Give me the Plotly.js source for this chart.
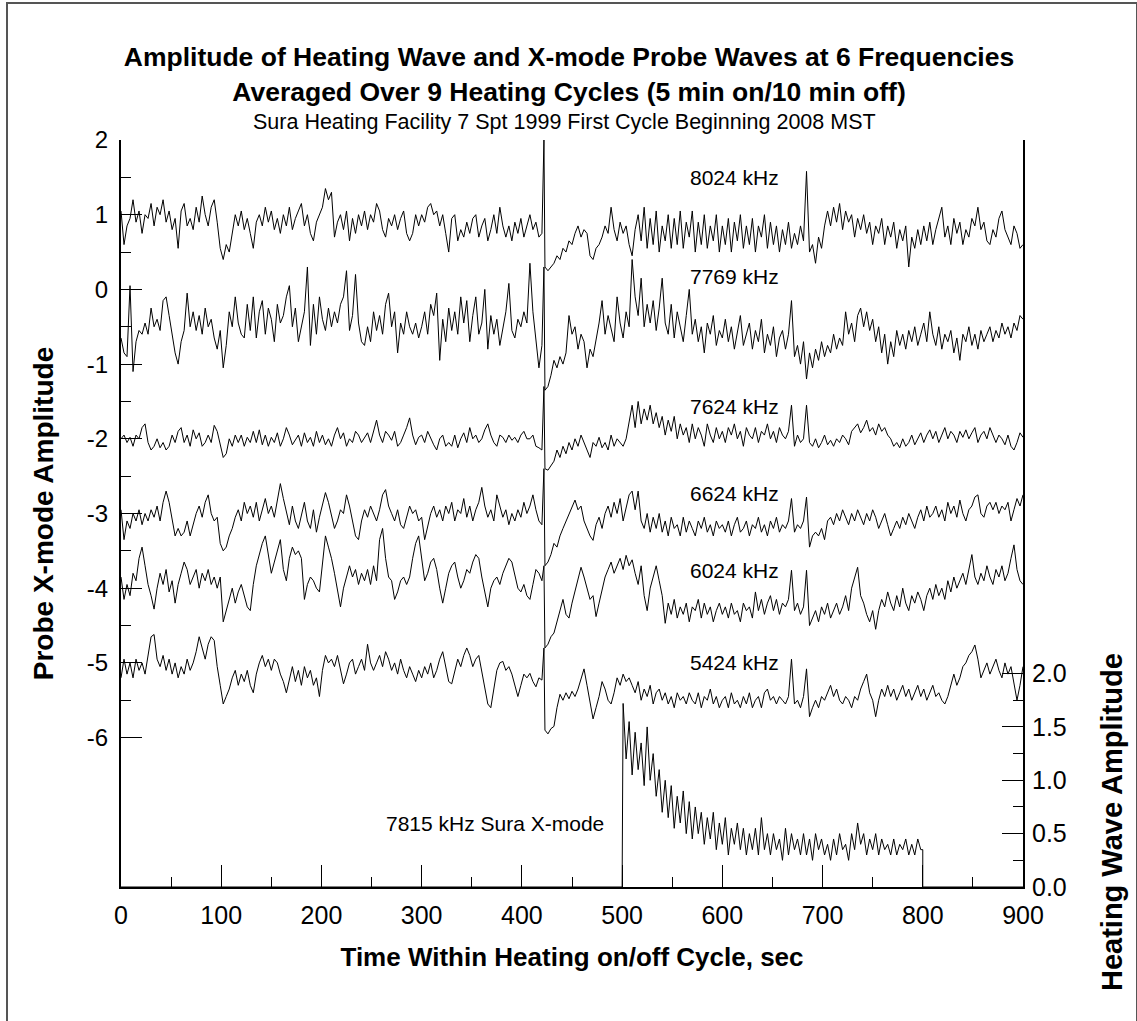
<!DOCTYPE html>
<html>
<head>
<meta charset="utf-8">
<script src="https://cdn.plot.ly/plotly-3.0.1.min.js"></script>
<style>
html, body { margin: 0; padding: 0; background: #ffffff; }
#wrap { position: relative; width: 1137px; height: 1021px; overflow: hidden; }
#chart { width: 1137px; height: 1021px; }
#frame { position: absolute; left: 6px; top: 2px; width: 1128px; height: 1040px; border: 2px solid #555555; pointer-events: none; }
</style>
</head>
<body>
<div id="wrap">
<div id="chart"></div>
<div id="frame"></div>
</div>
<script>
// ---------- data ----------
// Probe series sampled every 3 s: 0..420 (pre-switch), one point at 422 (switch transient), 423..900 (post)
const stepSec = 3;
const switchSec = 422;

const probe8024 = [
  1.05,0.6,0.85,0.95,1.2,0.9,1.05,0.75,1.0,0.95,
  1.15,0.85,1.1,1.0,1.2,0.9,1.05,0.8,0.95,0.55,
  1.05,1.15,0.85,0.95,0.8,1.1,0.9,1.25,1.0,0.85,
  1.1,1.2,0.9,0.55,0.4,0.6,0.5,0.75,1.0,0.85,
  1.05,0.8,0.95,0.75,0.55,0.9,1.0,0.85,1.1,0.9,
  1.05,0.8,0.95,0.75,1.0,0.85,1.1,0.8,0.95,1.05,
  1.15,0.85,1.0,0.75,0.65,0.9,1.0,1.1,1.35,1.2,
  1.3,0.7,0.9,1.0,0.8,1.05,0.65,0.95,0.75,1.0,
  0.85,1.05,0.8,1.0,0.9,1.15,1.05,0.8,0.7,0.95,
  0.85,1.0,0.8,0.95,1.05,0.75,0.65,0.75,1.0,0.85,
  1.0,0.9,1.1,1.15,1.0,1.05,0.85,1.0,0.75,0.5,
  0.95,1.0,0.65,0.8,0.7,0.9,0.75,0.95,1.0,0.7,
  0.85,0.95,0.65,0.8,1.0,0.75,1.1,0.85,0.7,0.85,
  0.65,0.9,0.75,0.95,0.7,0.85,1.0,0.8,0.9,0.7,
  0.75,
  2.0,
  0.3,0.25,0.3,0.35,0.45,0.4,0.55,0.5,0.65,0.6,
  0.75,0.85,0.7,0.8,0.75,0.45,0.4,0.55,0.6,0.7,
  0.85,0.75,1.1,0.8,0.65,0.9,0.75,0.85,0.6,0.45,
  0.8,1.0,0.65,1.1,0.55,0.95,0.6,1.05,0.5,0.85,
  0.65,1.0,0.55,0.95,0.6,1.05,0.55,0.9,0.7,1.05,
  0.5,0.9,0.6,1.0,0.55,0.85,0.65,1.0,0.5,0.85,
  0.6,0.95,0.5,0.9,0.65,1.0,0.55,0.85,0.6,0.95,
  0.5,0.85,0.7,1.0,0.55,0.9,0.6,0.85,0.5,0.8,
  0.6,0.9,0.55,0.75,0.6,0.85,0.65,1.58,0.5,0.6,
  0.35,0.7,0.55,0.85,1.05,0.85,1.1,0.9,1.15,0.8,
  1.05,0.9,1.0,0.7,0.95,0.8,1.0,0.75,0.9,0.6,
  0.85,0.75,0.95,0.6,0.85,0.7,0.9,0.55,0.8,0.65,
  0.85,0.3,0.7,0.55,0.8,0.6,0.85,0.65,0.9,0.6,
  0.8,0.95,1.1,0.7,0.85,0.6,0.95,0.75,0.9,0.6,
  0.8,0.7,0.95,0.85,1.1,0.8,0.9,0.65,0.6,0.8,
  0.7,0.95,1.05,0.8,0.7,0.6,0.85,0.75,0.55,0.6
];

const probe7769 = [
  -0.65,-0.85,-0.9,0.05,-1.1,-0.7,-0.55,-0.6,-0.45,-0.6,
  -0.25,-0.5,-0.4,-0.55,-0.15,-0.1,-0.35,-0.6,-0.85,-1.0,
  -0.7,-0.55,-0.05,-0.5,-0.3,-0.55,-0.35,-0.6,-0.25,-0.5,
  -0.4,-0.65,-0.8,-0.55,-1.05,-0.75,-0.3,-0.5,-0.1,-0.45,
  -0.6,-0.65,-0.2,-0.55,-0.1,-0.65,-0.3,-0.15,-0.6,-0.25,
  -0.4,-0.7,-0.2,-0.45,-0.35,-0.1,0.05,-0.5,-0.25,-0.7,
  -0.5,-0.3,0.3,-0.75,-0.2,-0.6,-0.1,-0.4,-0.55,-0.25,
  -0.5,-0.3,-0.45,-0.2,-0.1,0.25,-0.55,-0.35,0.2,-0.45,
  -0.7,-0.75,-0.5,-0.7,-0.3,-0.55,-0.35,-0.6,-0.2,-0.05,
  -0.5,-0.3,-0.85,-0.45,-0.6,-0.3,-0.5,-0.6,-0.45,-0.65,
  -0.5,-0.3,-0.6,-0.2,-0.35,-0.05,-0.95,-0.4,-0.7,-0.25,
  -0.55,-0.3,-0.6,-0.1,-0.45,-0.15,-0.7,-0.35,-0.1,-0.6,
  -0.45,0.0,-0.8,-0.35,-0.6,-0.4,-0.75,-0.5,-0.3,0.08,
  -0.55,-0.65,-0.4,-0.5,-0.3,-0.45,0.35,-0.3,-0.65,-1.05,
  -0.75,
  0.3,
  -1.35,-1.3,-1.15,-0.95,-1.05,-0.9,-1.0,-0.85,-0.35,-0.6,
  -0.5,-0.8,-0.6,-0.7,-1.05,-0.8,-0.9,-0.7,-0.45,-0.15,
  -0.6,-0.35,-0.55,-0.7,-0.1,-0.45,-0.65,-0.3,-0.5,0.4,
  -0.1,-0.35,0.15,-0.5,-0.2,-0.45,-0.15,-0.55,-0.25,0.15,
  -0.45,-0.6,-0.2,-0.65,-0.3,-0.5,-0.7,-0.35,0.0,-0.6,
  -0.4,-0.7,-0.5,-0.85,-0.45,-0.6,-0.35,-0.75,-0.55,-0.65,
  -0.4,-0.7,-0.5,-0.8,-0.55,-0.35,-0.75,-0.6,-0.45,-0.8,
  -0.55,-0.7,-0.4,-0.85,-0.6,-0.75,-0.5,-0.9,-0.65,-0.55,
  -0.8,-0.6,-0.15,-0.9,-0.75,-1.0,-0.7,-1.2,-0.85,-1.05,
  -0.8,-0.95,-0.7,-0.9,-0.75,-0.85,-0.6,-0.8,-0.65,-0.75,
  -0.3,-0.6,-0.45,-0.7,-0.35,-0.25,-0.5,-0.3,-0.55,-0.4,
  -0.7,-0.5,-0.85,-0.6,-1.0,-0.7,-0.9,-0.55,-0.75,-0.6,
  -0.8,-0.55,-0.7,-0.5,-0.75,-0.6,-0.45,-0.7,-0.3,-0.6,
  -0.75,-0.5,-0.8,-0.6,-0.7,-0.55,-0.85,-0.65,-0.95,-0.6,
  -0.7,-0.5,-0.75,-0.6,-0.8,-0.55,-0.7,-0.6,-0.5,-0.7,
  -0.55,-0.65,-0.45,-0.6,-0.5,-0.65,-0.45,-0.55,-0.35,-0.4
];

const probe7624 = [
  -2.0,-1.95,-2.05,-1.98,-2.1,-1.95,-2.0,-1.85,-1.8,-2.05,
  -2.15,-2.1,-2.0,-2.12,-2.05,-2.15,-2.1,-1.95,-2.05,-1.9,
  -1.85,-2.05,-1.95,-2.1,-1.88,-2.0,-1.92,-2.1,-2.05,-1.95,
  -2.05,-1.82,-1.9,-2.1,-2.25,-2.2,-2.0,-2.1,-1.95,-2.05,
  -1.95,-2.1,-1.98,-2.05,-1.9,-2.05,-1.88,-2.08,-1.95,-2.1,
  -1.98,-2.05,-1.92,-2.1,-2.0,-1.85,-1.95,-2.08,-2.02,-1.95,
  -2.1,-1.92,-2.05,-1.98,-2.1,-1.9,-2.05,-1.95,-2.08,-2.0,
  -2.1,-1.95,-1.85,-2.0,-1.92,-2.1,-2.0,-2.05,-1.9,-1.95,
  -2.05,-1.98,-1.92,-2.05,-1.9,-1.75,-1.95,-2.05,-1.9,-1.95,
  -2.02,-1.9,-2.1,-2.05,-1.95,-1.85,-1.72,-1.95,-2.08,-1.98,
  -1.95,-2.05,-1.9,-2.0,-2.08,-2.15,-2.0,-1.95,-2.1,-2.05,
  -2.1,-1.95,-2.12,-2.0,-1.92,-2.05,-1.85,-2.0,-1.95,-2.05,
  -2.0,-1.88,-1.8,-1.95,-2.05,-2.1,-1.95,-1.98,-2.05,-1.95,
  -2.02,-1.98,-2.05,-1.95,-1.9,-2.0,-2.0,-1.95,-2.1,-2.12,
  -2.15,
  -1.3,
  -2.4,-2.42,-2.35,-2.3,-2.15,-2.25,-2.1,-2.2,-2.05,-2.15,
  -2.0,-2.1,-1.95,-2.05,-2.15,-2.25,-2.05,-2.1,-1.98,-2.12,
  -2.05,-2.15,-1.95,-2.1,-2.0,-2.05,-2.1,-2.0,-1.75,-1.55,
  -1.85,-1.5,-1.8,-1.6,-1.75,-1.55,-1.8,-1.65,-1.85,-1.7,
  -1.95,-1.75,-1.9,-1.7,-2.0,-1.8,-1.95,-1.85,-2.05,-1.8,
  -2.0,-1.85,-1.95,-2.1,-1.8,-1.95,-2.05,-1.85,-2.0,-1.9,
  -2.05,-1.85,-1.95,-1.8,-2.0,-1.9,-2.1,-1.85,-1.95,-2.0,
  -1.85,-2.05,-1.9,-1.95,-1.8,-2.0,-1.9,-2.05,-1.85,-1.95,
  -2.0,-1.9,-1.55,-2.1,-1.95,-2.05,-2.0,-1.55,-2.05,-2.1,
  -2.0,-2.12,-2.05,-1.95,-2.08,-2.02,-2.1,-2.0,-2.05,-1.95,
  -2.0,-2.08,-1.9,-1.85,-1.8,-1.92,-1.85,-1.75,-1.9,-1.85,
  -1.95,-1.8,-1.9,-1.85,-1.95,-2.0,-2.1,-2.05,-2.12,-2.0,
  -2.1,-2.05,-1.95,-2.08,-2.0,-1.92,-2.05,-1.95,-1.88,-2.0,
  -1.9,-2.05,-1.95,-1.85,-2.0,-1.9,-1.95,-2.05,-1.9,-1.98,
  -1.88,-2.0,-1.92,-1.85,-2.05,-1.95,-1.9,-2.0,-1.85,-1.95,
  -2.05,-1.95,-2.0,-2.08,-1.95,-2.1,-2.15,-2.05,-1.92,-1.98
];

const probe6624 = [
  -2.95,-3.35,-3.1,-3.2,-3.0,-3.1,-2.95,-3.15,-3.0,-3.1,
  -2.95,-3.05,-2.9,-3.1,-2.85,-2.7,-2.85,-3.05,-3.3,-3.2,
  -3.3,-3.25,-3.1,-3.3,-3.15,-3.0,-2.9,-3.05,-2.85,-2.75,
  -3.0,-3.1,-3.05,-3.4,-3.5,-3.45,-3.3,-3.2,-3.05,-2.95,
  -3.1,-2.85,-3.0,-2.9,-3.05,-2.85,-3.1,-2.95,-2.8,-3.0,
  -2.9,-3.05,-2.85,-2.6,-2.8,-3.0,-3.15,-2.9,-3.1,-3.2,
  -3.0,-2.85,-3.1,-3.2,-2.95,-3.25,-3.05,-2.9,-2.72,-2.85,
  -3.05,-3.2,-3.1,-2.95,-3.0,-2.75,-2.9,-3.1,-3.3,-3.35,
  -3.1,-2.95,-3.05,-2.9,-3.0,-3.1,-2.95,-2.75,-2.68,-2.9,
  -3.0,-3.1,-2.95,-3.15,-3.2,-3.05,-2.9,-3.0,-2.95,-3.1,
  -3.05,-3.35,-3.15,-3.0,-2.9,-3.05,-2.95,-3.1,-2.9,-3.0,
  -2.85,-3.1,-2.95,-3.0,-2.8,-3.05,-2.9,-3.1,-2.95,-2.85,
  -2.65,-2.9,-3.05,-2.95,-3.1,-2.75,-2.9,-3.05,-2.95,-3.15,
  -3.0,-3.1,-2.95,-3.05,-2.85,-3.0,-2.9,-2.75,-2.95,-3.1,
  -3.15,
  -2.4,
  -3.7,-3.65,-3.55,-3.4,-3.45,-3.3,-3.2,-3.1,-3.0,-2.9,
  -2.82,-2.95,-2.9,-3.1,-3.2,-3.3,-3.36,-3.15,-3.05,-3.2,
  -3.0,-2.9,-3.05,-2.85,-3.0,-2.8,-3.1,-2.9,-2.75,-2.7,
  -2.95,-2.7,-3.1,-3.2,-3.0,-3.25,-3.05,-3.2,-3.0,-3.25,
  -3.1,-3.3,-3.05,-3.2,-3.15,-3.3,-3.05,-3.25,-3.1,-3.2,
  -3.3,-3.1,-3.2,-3.05,-3.25,-3.15,-3.3,-3.1,-3.2,-3.15,
  -3.25,-3.1,-3.3,-3.15,-3.05,-3.25,-3.2,-3.1,-3.3,-3.15,
  -3.2,-3.05,-3.25,-3.15,-3.3,-3.1,-3.2,-3.05,-3.25,-3.15,
  -3.2,-3.1,-2.8,-3.25,-3.15,-3.2,-3.1,-2.78,-3.45,-3.3,
  -3.25,-3.3,-3.2,-3.35,-3.1,-3.05,-3.15,-3.0,-3.1,-2.95,
  -3.05,-3.15,-3.0,-3.1,-2.95,-3.05,-3.15,-3.0,-3.1,-2.95,
  -3.05,-3.2,-3.1,-3.0,-3.15,-3.3,-3.2,-3.1,-3.2,-3.05,
  -3.15,-3.0,-3.1,-3.2,-3.05,-2.95,-3.1,-2.9,-3.05,-3.0,
  -2.9,-3.05,-2.95,-3.1,-2.85,-3.0,-2.9,-3.05,-2.82,-3.0,
  -3.1,-2.95,-2.9,-2.78,-2.75,-3.0,-3.05,-2.9,-2.85,-2.95,
  -2.85,-3.0,-2.9,-2.95,-2.85,-3.1,-2.95,-2.8,-2.9,-2.75
];

const probe6024 = [
  -3.85,-4.15,-3.95,-4.1,-3.8,-3.9,-3.6,-3.45,-3.7,-3.95,
  -4.1,-4.28,-4.0,-3.8,-3.95,-3.75,-4.05,-3.9,-4.2,-3.95,
  -3.8,-3.65,-3.75,-3.95,-3.85,-3.75,-4.0,-3.8,-3.9,-3.75,
  -3.95,-3.85,-4.0,-3.85,-4.45,-4.3,-4.15,-4.0,-4.2,-4.05,
  -3.95,-4.1,-4.25,-4.3,-3.95,-3.7,-3.55,-3.4,-3.3,-3.55,
  -3.8,-3.65,-3.5,-3.35,-3.75,-3.9,-3.6,-3.45,-3.55,-3.5,
  -3.6,-4.15,-3.95,-3.85,-3.9,-4.0,-4.05,-3.7,-3.3,-3.45,
  -3.6,-3.8,-4.05,-4.25,-4.0,-3.85,-3.7,-3.85,-3.75,-3.95,
  -3.8,-3.9,-3.75,-3.95,-3.7,-3.9,-3.35,-3.2,-3.6,-3.85,
  -3.9,-4.15,-4.05,-3.9,-3.85,-3.95,-3.85,-3.6,-3.4,-3.3,
  -3.6,-3.9,-3.8,-3.65,-3.6,-3.75,-4.0,-4.2,-4.0,-3.8,
  -3.7,-3.65,-3.85,-4.0,-3.9,-3.75,-3.8,-3.65,-3.55,-3.6,
  -3.85,-4.05,-4.25,-4.0,-3.9,-3.85,-3.95,-3.8,-3.7,-3.6,
  -3.65,-3.85,-4.0,-4.05,-3.95,-4.1,-4.15,-3.95,-3.75,-3.8,
  -3.9,
  -3.7,
  -4.8,-4.75,-4.65,-4.6,-4.45,-4.3,-4.15,-4.35,-4.4,-4.2,
  -4.05,-3.9,-3.72,-3.85,-4.0,-4.15,-4.1,-4.38,-4.2,-4.0,
  -3.85,-3.75,-3.65,-3.8,-3.7,-3.6,-3.75,-3.56,-3.7,-3.62,
  -3.8,-3.95,-3.7,-4.1,-4.3,-4.0,-3.85,-3.7,-3.9,-4.1,
  -4.47,-4.2,-4.35,-4.15,-4.4,-4.25,-4.35,-4.2,-4.45,-4.25,
  -4.3,-4.15,-4.4,-4.2,-4.35,-4.25,-4.45,-4.3,-4.2,-4.35,
  -4.25,-4.4,-4.2,-4.35,-4.3,-4.45,-4.2,-4.3,-4.25,-4.4,
  -4.05,-4.3,-4.15,-4.35,-4.2,-4.1,-4.3,-4.15,-4.35,-4.2,
  -4.25,-4.15,-3.76,-4.3,-4.2,-4.35,-4.25,-3.76,-4.5,-4.4,
  -4.3,-4.45,-4.25,-4.35,-4.2,-4.4,-4.3,-4.2,-4.35,-4.25,
  -4.1,-4.3,-4.0,-3.85,-3.72,-4.1,-4.2,-4.35,-4.45,-4.3,
  -4.55,-4.3,-4.15,-4.25,-4.05,-4.2,-4.3,-4.1,-4.25,-4.0,
  -4.2,-4.3,-4.1,-4.2,-4.05,-4.15,-4.3,-4.1,-4.0,-4.15,
  -3.95,-4.1,-4.0,-4.15,-3.9,-4.05,-3.85,-4.0,-3.9,-3.8,
  -3.95,-3.75,-3.55,-3.85,-3.95,-3.8,-3.9,-3.7,-3.85,-3.95,
  -3.75,-3.85,-3.7,-3.9,-3.8,-3.6,-3.42,-3.75,-3.9,-3.95
];

const probe5424 = [
  -5.2,-4.95,-5.15,-5.0,-5.2,-4.95,-5.1,-5.0,-5.15,-4.9,
  -4.65,-4.62,-4.95,-5.05,-4.9,-5.1,-4.95,-5.15,-5.0,-5.2,
  -5.05,-5.15,-4.95,-5.1,-5.0,-4.85,-4.65,-4.8,-4.95,-4.75,
  -4.65,-4.7,-5.05,-5.3,-5.55,-5.45,-5.35,-5.2,-5.1,-5.3,
  -5.15,-5.25,-5.1,-5.3,-5.4,-5.15,-5.0,-4.9,-5.05,-4.95,
  -5.1,-4.95,-5.0,-5.15,-5.25,-5.4,-5.2,-5.05,-5.25,-5.1,
  -5.3,-5.05,-5.2,-5.1,-5.3,-5.2,-5.45,-5.1,-4.9,-5.0,
  -4.95,-5.05,-4.9,-5.1,-5.28,-5.15,-5.0,-4.95,-5.15,-5.05,
  -4.95,-5.1,-4.75,-5.0,-5.1,-5.0,-4.9,-5.05,-4.85,-4.95,
  -5.1,-5.0,-5.15,-4.95,-5.1,-5.2,-5.05,-5.15,-5.25,-5.1,
  -5.2,-5.05,-5.15,-5.0,-5.2,-5.1,-4.95,-4.85,-5.05,-5.25,
  -5.28,-5.1,-4.95,-5.05,-4.9,-4.8,-4.9,-5.05,-4.95,-4.9,
  -5.1,-5.3,-5.55,-5.6,-5.35,-5.1,-5.0,-4.98,-5.1,-5.05,
  -5.15,-5.3,-5.45,-5.3,-5.15,-5.2,-5.14,-5.25,-5.32,-5.2,
  -5.23,
  -4.8,
  -5.9,-5.95,-5.88,-5.85,-5.6,-5.42,-5.5,-5.4,-5.48,-5.38,
  -5.45,-5.35,-5.2,-5.08,-5.3,-5.55,-5.75,-5.6,-5.45,-5.25,
  -5.35,-5.5,-5.55,-5.4,-5.2,-5.3,-5.15,-5.25,-5.2,-5.3,
  -5.4,-5.25,-5.5,-5.35,-5.45,-5.3,-5.55,-5.4,-5.35,-5.5,
  -5.4,-5.55,-5.45,-5.6,-5.4,-5.5,-5.45,-5.55,-5.4,-5.5,
  -5.55,-5.4,-5.6,-5.45,-5.5,-5.35,-5.55,-5.45,-5.6,-5.5,
  -5.45,-5.6,-5.4,-5.55,-5.5,-5.6,-5.45,-5.55,-5.4,-5.6,
  -5.5,-5.45,-5.6,-5.4,-5.35,-5.5,-5.45,-5.55,-5.45,-5.5,
  -5.55,-5.45,-4.95,-5.55,-5.5,-5.6,-5.45,-5.08,-5.72,-5.6,
  -5.5,-5.6,-5.45,-5.5,-5.4,-5.3,-5.45,-5.35,-5.5,-5.55,
  -5.45,-5.5,-5.6,-5.45,-5.5,-5.35,-5.25,-5.15,-5.4,-5.5,
  -5.72,-5.5,-5.35,-5.45,-5.3,-5.45,-5.35,-5.5,-5.4,-5.3,
  -5.45,-5.35,-5.5,-5.4,-5.3,-5.45,-5.35,-5.5,-5.4,-5.3,
  -5.45,-5.4,-5.5,-5.55,-5.45,-5.3,-5.15,-5.3,-5.2,-5.05,
  -5.0,-4.9,-4.85,-4.76,-4.95,-5.2,-5.1,-5.0,-5.15,-5.05,
  -4.95,-5.1,-5.2,-5.0,-5.15,-5.05,-5.25,-5.5,-5.3,-5.05
];

// Heating wave (right axis): on at 500 s, off at 800 s; sampled every 3 s from 501 to 798
const heatOnSec = 500;
const heatOffSec = 800;
const heatingWave = [
  1.72,1.2,1.55,1.05,1.45,1.1,1.35,0.95,1.5,1.0,
  1.25,0.85,1.1,0.7,1.0,0.65,0.95,0.55,0.85,0.6,
  0.9,0.5,0.8,0.45,0.75,0.5,0.7,0.4,0.65,0.45,
  0.7,0.35,0.6,0.4,0.65,0.3,0.55,0.4,0.6,0.35,
  0.55,0.3,0.5,0.35,0.55,0.3,0.65,0.35,0.5,0.3,
  0.5,0.35,0.45,0.25,0.55,0.3,0.5,0.35,0.45,0.3,
  0.5,0.3,0.45,0.25,0.5,0.35,0.45,0.3,0.4,0.25,
  0.45,0.3,0.5,0.35,0.4,0.25,0.5,0.35,0.6,0.4,
  0.5,0.3,0.45,0.35,0.5,0.3,0.45,0.35,0.4,0.3,
  0.45,0.3,0.4,0.35,0.45,0.3,0.4,0.3,0.45,0.35
];

const seriesNames = ["8024 kHz","7769 kHz","7624 kHz","6624 kHz","6024 kHz","5424 kHz"];
const seriesLabelY = [1.5, 0.17, -1.57, -2.73, -3.76, -5.0];
const labelTimeSec = 566;
const heatingLabel = "7815 kHz Sura X-mode";

const titleLines = ["Amplitude of Heating Wave and X-mode Probe Waves at 6 Frequencies",
                    "Averaged Over 9 Heating Cycles (5 min on/10 min off)"];
const subtitleText = "Sura Heating Facility 7 Spt 1999 First Cycle Beginning 2008 MST";

const xTicks = [0,100,200,300,400,500,600,700,800,900];
const xMinor = [50,150,250,350,450,550,650,750,850];
const yTicks = [2,1,0,-1,-2,-3,-4,-5,-6];
const yTickText = ["2","1","0","-1","-2","-3","-4","-5","-6"];
const yMinor = [1.5,0.5,-0.5,-1.5,-2.5,-3.5,-4.5,-5.5];
const y2Ticks = [0,0.5,1.0,1.5,2.0];
const y2TickText = ["0.0","0.5","1.0","1.5","2.0"];
const y2Minor = [0.25,0.75,1.25,1.75];

// ---------- build time grids ----------
const tProbe = [];
for (let t = 0; t <= 420; t += stepSec) tProbe.push(t);
tProbe.push(switchSec);
for (let t = 423; t <= 900; t += stepSec) tProbe.push(t);

const tHeat = [0, heatOnSec];
const vHeat = [0, 0];
for (let i = 0; i < heatingWave.length; i++) { tHeat.push(501 + i * stepSec); vHeat.push(heatingWave[i]); }
tHeat.push(heatOffSec, heatOffSec, 900);
vHeat.push(heatingWave[heatingWave.length - 1], 0, 0);

const probeData = [probe8024, probe7769, probe7624, probe6624, probe6024, probe5424];

const FONT = "Liberation Sans, Arial, Helvetica, sans-serif";
const traces = probeData.map((vals, i) => ({
  type: "scatter", mode: "lines", name: seriesNames[i],
  x: tProbe, y: vals, xaxis: "x", yaxis: "y",
  line: { color: "#000000", width: 1 }, hoverinfo: "skip"
}));
traces.push({
  type: "scatter", mode: "lines", name: heatingLabel,
  x: tHeat, y: vHeat, xaxis: "x", yaxis: "y2",
  line: { color: "#000000", width: 1 }, hoverinfo: "skip"
});

const annotations = seriesNames.map((name, i) => ({
  text: name, x: labelTimeSec, y: seriesLabelY[i], xref: "x", yref: "y",
  xanchor: "left", yanchor: "middle", showarrow: false,
  font: { family: FONT, size: 21, color: "#000" }
}));
annotations.push({
  text: heatingLabel, x: 484, y: -7.15, xref: "x", yref: "y",
  xanchor: "right", yanchor: "middle", showarrow: false,
  font: { family: FONT, size: 21, color: "#000" }
});
annotations.push({
  text: "<b>Heating Wave Amplitude</b>", textangle: -90,
  x: 1.0987, y: 0.087, xref: "paper", yref: "paper",
  xanchor: "center", yanchor: "middle", showarrow: false,
  font: { family: FONT, size: 29, color: "#000" }
});
annotations.push({
  text: subtitleText, x: 0.4922, y: 1.0241, xref: "paper", yref: "paper",
  xanchor: "center", yanchor: "middle", showarrow: false,
  font: { family: FONT, size: 21.5, color: "#000" }
});

const layout = {
  width: 1137, height: 1021,
  margin: { l: 121, r: 114, t: 140, b: 134, pad: 0 },
  paper_bgcolor: "#ffffff", plot_bgcolor: "#ffffff",
  showlegend: false,
  font: { family: FONT, color: "#000" },
  title: {
    text: "<b>" + titleLines[0] + "<br>" + titleLines[1] + "</b>",
    font: { family: FONT, size: 26.5, color: "#000" },
    x: 0.4967, xref: "paper", xanchor: "center",
    y: 0.935, yref: "container", yanchor: "middle"
  },
  xaxis: {
    range: [0, 900], tickmode: "array", tickvals: xTicks,
    ticks: "inside", ticklen: 22, tickwidth: 1, tickcolor: "#000",
    showline: true, linewidth: 2, linecolor: "#000", zeroline: false, showgrid: false,
    tickfont: { family: FONT, size: 25, color: "#000" }, ticklabelstandoff: 5,
    minor: { tickmode: "array", tickvals: xMinor, ticks: "inside", ticklen: 10, tickwidth: 1, tickcolor: "#000", showgrid: false },
    title: { text: "<b>Time Within Heating on/off Cycle, sec</b>", font: { family: FONT, size: 26, color: "#000" }, standoff: 20 },
    fixedrange: true
  },
  yaxis: {
    range: [-8, 2], tickmode: "array", tickvals: yTicks, ticktext: yTickText,
    ticks: "inside", ticklen: 21, tickwidth: 1, tickcolor: "#000",
    showline: true, linewidth: 2, linecolor: "#000", zeroline: false, showgrid: false,
    tickfont: { family: FONT, size: 24, color: "#000" }, ticklabelstandoff: 6,
    minor: { tickmode: "array", tickvals: yMinor, ticks: "inside", ticklen: 10, tickwidth: 1, tickcolor: "#000", showgrid: false },
    title: { text: "<b>Probe X-mode Amplitude</b>", font: { family: FONT, size: 28, color: "#000" }, standoff: 25 },
    fixedrange: true
  },
  yaxis2: {
    overlaying: "y", side: "right", anchor: "x",
    range: [0, 7], tickmode: "array", tickvals: y2Ticks, ticktext: y2TickText,
    ticks: "inside", ticklen: 21, tickwidth: 1, tickcolor: "#000",
    showline: true, linewidth: 2, linecolor: "#000", zeroline: false, showgrid: false,
    tickfont: { family: FONT, size: 25, color: "#000" }, ticklabelstandoff: 2,
    minor: { tickmode: "array", tickvals: y2Minor, ticks: "inside", ticklen: 10, tickwidth: 1, tickcolor: "#000", showgrid: false },
    fixedrange: true
  },
  annotations: annotations
};

Plotly.newPlot("chart", traces, layout, { staticPlot: true, displayModeBar: false });
</script>
</body>
</html>
